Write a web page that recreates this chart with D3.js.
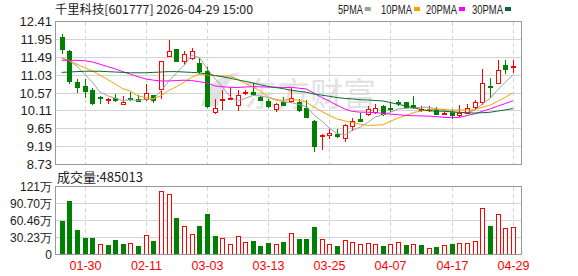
<!DOCTYPE html>
<html>
<head>
<meta charset="UTF-8">
<script src="https://cdn.jsdelivr.net/npm/d3@7"></script>
<style>
  body { margin: 0; background: #fff; }
  text { font-family: "Liberation Sans", Arial, sans-serif; font-size: 12px; }
  .cjk { font-family: "Noto Sans CJK SC", "Liberation Sans", sans-serif; }
</style>
</head>
<body>
<svg id="kline" width="578" height="276"></svg>
<script>
  // ---- data ----
  const stockTitle = "千里科技[601777] 2026-04-29 15:00";
  const dates = ["01-27","01-28","01-29","01-30","02-02","02-03","02-04","02-05","02-06","02-09",
    "02-10","02-11","02-12","02-13","02-24","02-25","02-26","02-27","03-02","03-03",
    "03-04","03-05","03-06","03-09","03-10","03-11","03-12","03-13","03-16","03-17",
    "03-18","03-19","03-20","03-23","03-24","03-25","03-26","03-27","03-30","03-31",
    "04-01","04-02","04-03","04-07","04-08","04-09","04-10","04-13","04-14","04-15",
    "04-16","04-17","04-20","04-21","04-22","04-23","04-24","04-27","04-28","04-29"];
  const opens = [12.02,11.65,10.85,10.74,10.64,10.46,10.41,10.43,10.28,10.44,
    10.42,10.42,10.52,10.68,11.51,11.69,11.40,11.48,11.34,11.14,
    10.09,10.41,10.43,10.26,10.59,10.60,10.47,10.36,10.17,10.34,
    10.37,10.35,10.19,9.86,9.48,9.48,9.51,9.40,9.72,9.89,
    10.04,10.09,10.24,10.19,10.34,10.34,10.25,10.14,10.15,10.16,
    10.04,10.08,10.01,10.06,10.22,10.35,10.76,10.82,11.29,11.24];
  const highs = [12.10,11.67,10.94,10.93,10.69,10.50,10.43,10.54,10.48,10.60,
    10.51,10.79,10.53,11.40,11.93,11.71,11.64,11.74,11.46,11.23,
    10.42,10.66,10.70,10.65,10.66,10.83,10.49,10.42,10.31,10.46,
    10.71,10.42,10.40,9.87,9.52,9.64,9.65,9.78,9.93,10.05,
    10.23,10.29,10.25,10.34,10.40,10.35,10.48,10.23,10.24,10.21,
    10.09,10.15,10.26,10.29,10.38,11.18,10.96,11.41,11.41,11.41];
  const lows = [11.57,10.80,10.56,10.43,10.27,10.28,10.28,10.33,10.25,10.37,
    10.36,10.36,10.31,10.42,11.50,11.37,11.30,11.43,11.07,10.18,
    10.02,10.14,10.40,10.10,10.53,10.53,10.37,10.19,10.08,10.26,
    10.32,10.09,9.95,9.06,9.10,9.39,9.40,9.31,9.60,9.84,
    9.97,10.02,9.99,10.08,10.23,10.18,10.16,10.08,10.07,10.03,
    10.00,9.89,9.96,10.03,10.17,10.26,10.44,10.80,11.07,11.08];
  const closes = [11.70,10.89,10.73,10.61,10.32,10.43,10.42,10.38,10.33,10.41,
    10.37,10.57,10.38,11.39,11.66,11.40,11.57,11.65,11.14,10.24,
    10.19,10.42,10.44,10.51,10.60,10.55,10.38,10.23,10.28,10.27,
    10.45,10.14,9.96,9.21,9.49,9.53,9.47,9.74,9.84,9.85,
    10.15,10.18,10.04,10.15,10.30,10.20,10.21,10.15,10.16,10.04,
    10.05,10.01,10.05,10.18,10.34,10.84,10.72,11.15,11.18,11.26];
  const prevClose = 11.98; // close of the day before the window
  const volumes = [596000,950000,437000,290000,290000,184000,171000,260000,189000,201000,
    154000,348000,242000,1126000,1068000,654000,507000,366000,507000,720000,
    330000,290000,189000,330000,224000,242000,154000,207000,189000,224000,
    389000,275000,272000,490000,272000,189000,154000,254000,224000,189000,
    207000,189000,154000,189000,224000,171000,189000,171000,118000,136000,
    171000,189000,207000,207000,242000,826000,507000,720000,472000,485013];

  // moving averages before a full window of closes exists
  const ma5Head = [11.48,11.40,11.26,11.05];
  const ma10Head = [11.46,11.40,11.31,11.22,11.14,11.03,10.92,10.80,10.68];
  const ma20Head = [11.41,11.41,11.41,11.40,11.37,11.31,11.25,11.19,11.12,11.05,
    10.99,10.93,10.90,10.88,10.88,10.89,10.90,10.89,10.86];
  const ma30Head = [11.10,11.11,11.12,11.13,11.13,11.13,11.12,11.11,11.10,11.09,
    11.09,11.09,11.10,11.11,11.12,11.12,11.11,11.10,11.09,11.06,
    11.02,10.99,10.95,10.91,10.87,10.83,10.78,10.74,10.71];

  const maNames = ["5PMA","10PMA","20PMA","30PMA"];
  const maPeriods = [5,10,20,30];
  const maHeads = [ma5Head, ma10Head, ma20Head, ma30Head];
  const maColors = ["#a0a0a0","#f5a300","#ff00ff","#0a6b2e"];

  const priceTicks = [12.41,11.95,11.49,11.03,10.57,10.11,9.65,9.19,8.73];
  const volTicks = [1209300,907000,604600,302300,0];
  const volTickLabels = ["121万","90.70万","60.46万","30.23万","0"];
  const dateTicks = ["01-30","02-11","03-03","03-13","03-25","04-07","04-17","04-29"];

  const RED = "#ff0000", GREEN = "#008000", GRID = "#d4d4d4", FRAME = "#999";

  // ---- layout ----
  const svg = d3.select("#kline");
  const left = 55.5, right = 521.5;
  const mainTop = 21.5, mainBot = 164.5;
  const volTop = 186.5, volBot = 254.5;

  const x = d3.scaleBand().domain(dates).range([56.5, 518]).padding(0.35);
  const cx = d => Math.round(x(d) + x.bandwidth() / 2) + 0.5;
  const y = d3.scaleLinear().domain([8.73, 12.41]).range([mainBot, mainTop]);
  const yv = d3.scaleLinear().domain([0, 1209300]).range([volBot, volTop]);
  const snap = v => Math.round(v - 0.5) + 0.5;

  // header
  svg.append("text").attr("class", "cjk").attr("x", 55).attr("y", 14)
    .attr("fill", "#222").attr("textLength", 198).attr("lengthAdjust", "spacingAndGlyphs")
    .text(stockTitle);

  // legend
  const legendX = [338, 381, 426, 472];
  maNames.forEach((name, i) => {
    const w = name.length * 6.2;
    svg.append("text").attr("x", legendX[i]).attr("y", 14).attr("fill", "#222")
      .attr("textLength", w).attr("lengthAdjust", "spacingAndGlyphs").text(name);
    svg.append("rect").attr("x", legendX[i] + w + 2).attr("y", 7)
      .attr("width", 6).attr("height", 4).attr("fill", maColors[i]);
  });

  // watermark
  const wm = svg.append("g").attr("fill", "#e2e2e2");
  wm.append("path").attr("d", "M201,106 Q208,76 240,72 Q222,86 218,106 Z");
  wm.append("text").attr("class", "cjk").attr("x", 244).attr("y", 106)
    .style("font-size", "33px").text("东方财富");

  // grids
  const grid = svg.append("g").attr("stroke", GRID).attr("shape-rendering", "crispEdges");
  priceTicks.slice(1, -1).forEach(p => {
    grid.append("line").attr("x1", left).attr("x2", right).attr("y1", snap(y(p))).attr("y2", snap(y(p)));
  });
  volTicks.slice(1, -1).forEach(v => {
    grid.append("line").attr("x1", left).attr("x2", right).attr("y1", snap(yv(v))).attr("y2", snap(yv(v)));
  });
  dateTicks.forEach(d => {
    [[mainTop, mainBot], [volTop, volBot]].forEach(([a, b]) => {
      grid.append("line").attr("x1", cx(d)).attr("x2", cx(d)).attr("y1", a).attr("y2", b)
        .attr("stroke-dasharray", "4,3");
    });
  });

  // axis labels
  svg.append("g").selectAll("text").data(priceTicks).join("text")
    .attr("x", 52).attr("y", d => y(d)).attr("dy", "0.35em").attr("text-anchor", "end")
    .attr("fill", "#222").style("font-size", "13px").text(d => d.toFixed(2));
  svg.append("g").selectAll("text").data(volTicks).join("text")
    .attr("x", 52).attr("y", d => yv(d)).attr("dy", "0.36em")
    .attr("text-anchor", "end").attr("fill", "#222").style("font-size", "12px")
    .text((d, i) => volTickLabels[i]);
  svg.append("g").selectAll("text").data(dateTicks).join("text")
    .attr("x", d => cx(d)).attr("y", 270).attr("text-anchor", "middle")
    .attr("fill", RED).style("font-size", "12.5px").text(d => d);

  svg.append("text").attr("class", "cjk").attr("x", 57).attr("y", 182)
    .attr("fill", "#222").style("font-size", "13px")
    .text("成交量:" + volumes[volumes.length - 1]);

  // candles
  const bars = dates.map((d, i) => ({
    d, o: opens[i], h: highs[i], l: lows[i], c: closes[i], v: volumes[i],
    up: closes[i] >= opens[i],
    volUp: closes[i] >= (i ? closes[i - 1] : prevClose)
  }));
  const bw = Math.round(x.bandwidth());

  const candle = svg.append("g").attr("shape-rendering", "crispEdges");
  candle.selectAll("line").data(bars).join("line")
    .attr("x1", b => cx(b.d)).attr("x2", b => cx(b.d))
    .attr("y1", b => Math.round(y(b.h))).attr("y2", b => Math.round(y(b.l)))
    .attr("stroke", b => b.up ? RED : GREEN);
  candle.selectAll("rect").data(bars).join("rect")
    .attr("x", b => cx(b.d) - bw / 2)
    .attr("y", b => Math.round(y(Math.max(b.o, b.c))) + 0.5)
    .attr("width", bw - 1)
    .attr("height", b => Math.max(0.5, Math.round(y(Math.min(b.o, b.c))) - Math.round(y(Math.max(b.o, b.c)))))
    .attr("fill", b => b.up ? "#fff" : GREEN)
    .attr("stroke", b => b.up ? RED : GREEN);

  // moving averages
  const maLine = d3.line().x((v, i) => x(dates[i]) + x.bandwidth() / 2).y(v => y(v));
  maPeriods.forEach((p, k) => {
    const vals = closes.map((c, i) => i < p - 1 ? maHeads[k][i] : d3.mean(closes.slice(i - p + 1, i + 1)));
    svg.append("path").attr("d", maLine(vals)).attr("fill", "none")
      .attr("stroke", maColors[k]).attr("stroke-width", 1);
  });

  // volume bars
  svg.append("g").attr("shape-rendering", "crispEdges")
    .selectAll("rect").data(bars).join("rect")
    .attr("x", b => cx(b.d) - bw / 2)
    .attr("y", b => Math.round(yv(b.v)) + 0.5)
    .attr("width", bw - 1)
    .attr("height", b => volBot - Math.round(yv(b.v)) - 0.5)
    .attr("fill", b => b.volUp ? "#fff" : GREEN)
    .attr("stroke", b => b.volUp ? RED : GREEN);

  // frames
  [[mainTop, mainBot], [volTop, volBot]].forEach(([a, b]) => {
    svg.append("rect").attr("x", left).attr("y", a).attr("width", right - left).attr("height", b - a)
      .attr("fill", "none").attr("stroke", FRAME).attr("shape-rendering", "crispEdges");
  });
</script>
</body>
</html>
